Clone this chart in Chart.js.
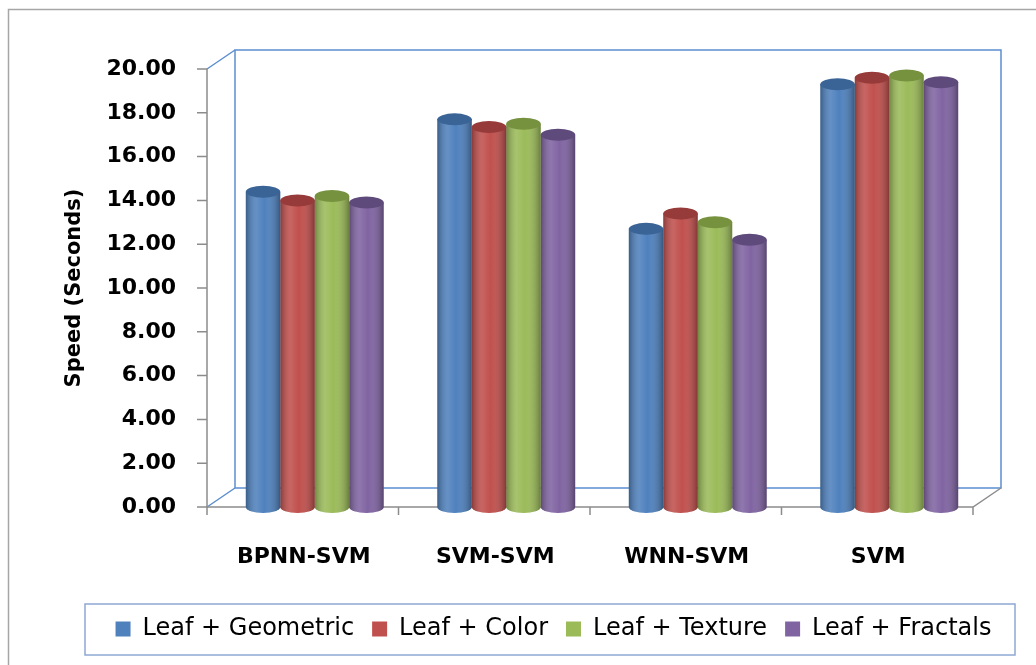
<!DOCTYPE html>
<html>
<head>
<meta charset="utf-8">
<script src="https://cdn.jsdelivr.net/npm/chart.js@4"></script>
<style>
  html, body { margin: 0; padding: 0; background: #fff; }
  #wrap { width: 1036px; height: 665px; }
</style>
</head>
<body>
<div id="wrap"><canvas id="speedChart" width="1036" height="665"></canvas></div>
<script>
// data
const methods = ["BPNN-SVM", "SVM-SVM", "WNN-SVM", "SVM"];
const leafGeometric = [14.4, 17.7, 12.7, 19.3];
const leafColor = [14.0, 17.35, 13.4, 19.6];
const leafTexture = [14.2, 17.5, 13.0, 19.7];
const leafFractals = [13.9, 17.0, 12.2, 19.4];
const yTicks = [0, 2, 4, 6, 8, 10, 12, 14, 16, 18, 20];

const colors = ["#4F81BD", "#C0504D", "#9BBB59", "#8064A2"];
const darker = ["#3A6396", "#963B39", "#76923F", "#5F4A7C"];

const depthX = 28, depthY = -19, frontShift = 12;

// back wall, floor edges and the grey front axis
const framePlugin = {
  id: 'frame',
  beforeDatasetsDraw(chart) {
    const {ctx, chartArea: a, scales: {y}} = chart;
    const fl = a.left - frontShift, fr = a.right - frontShift;
    const top = y.getPixelForValue(20), bot = y.getPixelForValue(0);
    ctx.save();
    // back wall
    ctx.strokeStyle = '#5B8ED0';
    ctx.lineWidth = 1.5;
    ctx.strokeRect(fl + depthX, top + depthY, fr - fl, bot - top);
    ctx.beginPath();
    ctx.moveTo(fl, top); ctx.lineTo(fl + depthX, top + depthY);
    ctx.moveTo(fl, bot); ctx.lineTo(fl + depthX, bot + depthY);
    ctx.stroke();
    // grey front axis
    ctx.strokeStyle = '#8C8C8C';
    ctx.lineWidth = 1.5;
    ctx.beginPath();
    ctx.moveTo(fl, top); ctx.lineTo(fl, bot); ctx.lineTo(fr, bot);
    ctx.lineTo(fr + depthX, bot + depthY);
    yTicks.forEach(v => {
      const py = y.getPixelForValue(v);
      ctx.moveTo(fl - 10, py); ctx.lineTo(fl, py);
    });
    for (let i = 0; i <= methods.length; i++) {
      const px = fl + (fr - fl) * i / methods.length;
      ctx.moveTo(px, bot); ctx.lineTo(px, bot + 8);
    }
    ctx.stroke();
    ctx.restore();
  },
  afterDatasetsDraw(chart) {
    const ctx = chart.ctx;
    chart.data.datasets.forEach((ds, di) => {
      chart.getDatasetMeta(di).data.forEach(bar => {
        const w = bar.width, l = bar.x - w / 2, r = bar.x + w / 2;
        const ry = 6;
        ctx.save();
        // rounded bottom
        ctx.fillStyle = colors[di];
        ctx.beginPath();
        ctx.ellipse(bar.x, bar.base, w / 2, ry, 0, 0, Math.PI);
        ctx.fill();
        // cylinder shading
        const g = ctx.createLinearGradient(l, 0, r, 0);
        g.addColorStop(0, 'rgba(0,0,0,0.28)');
        g.addColorStop(0.3, 'rgba(255,255,255,0.12)');
        g.addColorStop(0.55, 'rgba(255,255,255,0)');
        g.addColorStop(1, 'rgba(0,0,0,0.32)');
        ctx.fillStyle = g;
        ctx.beginPath();
        ctx.moveTo(l, bar.y);
        ctx.lineTo(l, bar.base);
        ctx.ellipse(bar.x, bar.base, w / 2, ry, 0, Math.PI, 0, true);
        ctx.lineTo(r, bar.y);
        ctx.closePath();
        ctx.fill();
        // top cap
        ctx.fillStyle = darker[di];
        ctx.beginPath();
        ctx.ellipse(bar.x, bar.y, w / 2, ry, 0, 0, Math.PI * 2);
        ctx.fill();
        ctx.restore();
      });
    });
  },
  afterLayout(chart) {
    // legend row sits a bit right of centre in the picture
    chart.legend.left += 14;
    chart.legend.right += 50;
  },
  afterDraw(chart) {
    const ctx = chart.ctx;
    ctx.save();
    ctx.strokeStyle = '#A6A6A6';
    ctx.lineWidth = 1.5;
    ctx.strokeRect(8.5, 9.5, 1040, 670);
    ctx.strokeStyle = '#8EA8D3';
    ctx.strokeRect(85, 604, 930, 51);
    ctx.restore();
  }
};

new Chart(document.getElementById("speedChart"), {
  type: 'bar',
  data: {
    labels: methods,
    datasets: [
      { label: "Leaf + Geometric", data: leafGeometric, backgroundColor: colors[0] },
      { label: "Leaf + Color", data: leafColor, backgroundColor: colors[1] },
      { label: "Leaf + Texture", data: leafTexture, backgroundColor: colors[2] },
      { label: "Leaf + Fractals", data: leafFractals, backgroundColor: colors[3] }
    ]
  },
  options: {
    responsive: false,
    animation: false,
    layout: { padding: { left: 58, right: 51, top: 69, bottom: 14 } },
    datasets: { bar: { categoryPercentage: 0.72, barPercentage: 1.0 } },
    scales: {
      x: {
        grid: { display: false },
        border: { display: false },
        ticks: {
          color: '#000',
          font: { family: 'DejaVu Sans', size: 22, weight: 'bold' },
          padding: 29,
          labelOffset: -11,
          maxRotation: 0
        },
        afterFit(scale) { scale.height = 92; }
      },
      y: {
        min: 0,
        max: 20,
        grid: { display: false, drawTicks: false },
        border: { display: false },
        ticks: {
          stepSize: 2,
          color: '#000',
          padding: 43,
          font: { family: 'DejaVu Sans', size: 22, weight: 'bold' },
          callback: v => v.toFixed(2)
        },
        title: {
          display: true,
          text: 'Speed (Seconds)',
          color: '#000',
          font: { family: 'DejaVu Sans', size: 21, weight: 'bold' }
        },
        afterFit(scale) { scale.width = 161; }
      }
    },
    plugins: {
      legend: {
        position: 'bottom',
        labels: {
          color: '#000',
          boxWidth: 15,
          boxHeight: 15,
          padding: 18,
          font: { family: 'DejaVu Sans', size: 24 }
        }
      },
      tooltip: { enabled: false }
    }
  },
  plugins: [framePlugin]
});
</script>
</body>
</html>
